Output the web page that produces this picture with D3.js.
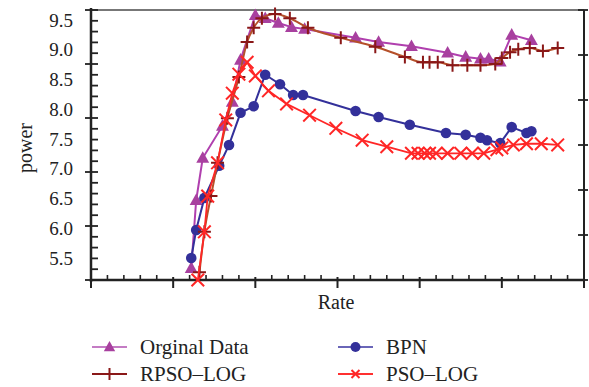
<!DOCTYPE html>
<html><head><meta charset="utf-8">
<script src="https://cdn.jsdelivr.net/npm/d3@7"></script>
<style>
html,body{margin:0;padding:0;background:#fff;}
text{font-family:"Liberation Serif","Times New Roman",serif;fill:#222;}
</style></head>
<body><svg id="c" width="589" height="387"></svg>
<script>
// ---- data ----
const origX = [6.1, 6.4, 6.8, 8.0, 8.6, 9.1, 10.0, 10.6, 11.4, 12.2, 13.0, 16.1, 17.5, 19.5, 21.7, 22.8, 23.7, 24.2, 24.9, 25.6, 26.8];
const origY = [5.33, 6.47, 7.18, 7.72, 8.12, 8.83, 9.58, 9.53, 9.45, 9.38, 9.35, 9.20, 9.13, 9.06, 8.95, 8.88, 8.85, 8.85, 8.80, 9.25, 9.16];
const bpnX = [6.1, 6.4, 6.9, 7.8, 8.4, 9.1, 9.9, 10.6, 11.5, 12.3, 12.9, 16.1, 17.5, 19.4, 21.6, 22.8, 23.7, 24.1, 24.9, 25.6, 26.5, 26.8];
const bpnY = [5.50, 5.97, 6.51, 7.05, 7.40, 7.94, 8.05, 8.58, 8.42, 8.24, 8.24, 7.97, 7.87, 7.74, 7.60, 7.57, 7.52, 7.48, 7.43, 7.70, 7.60, 7.63];
const rpsoX = [6.6, 6.9, 7.3, 7.7, 8.3, 9.0, 9.5, 9.9, 10.4, 11.2, 12.1, 13.2, 15.2, 17.3, 19.1, 20.2, 20.6, 21.1, 22.0, 22.9, 23.7, 24.6, 25.0, 25.5, 26.0, 26.7, 27.5, 28.4];
const rpsoY = [5.26, 5.94, 6.54, 7.10, 7.85, 8.54, 9.13, 9.37, 9.53, 9.60, 9.53, 9.37, 9.20, 9.05, 8.88, 8.79, 8.79, 8.79, 8.74, 8.74, 8.74, 8.76, 8.86, 8.96, 9.01, 9.03, 8.98, 9.03];
const psoX = [6.5, 6.9, 7.1, 7.7, 8.2, 8.6, 9.0, 9.5, 10.0, 10.8, 11.9, 13.3, 14.9, 16.5, 18.0, 19.5, 19.9, 20.3, 20.6, 21.0, 21.7, 22.5, 23.2, 23.9, 24.7, 25.0, 25.7, 26.5, 27.4, 28.4];
const psoY = [5.13, 5.94, 6.54, 7.10, 7.82, 8.27, 8.59, 8.79, 8.56, 8.31, 8.09, 7.90, 7.68, 7.48, 7.37, 7.26, 7.26, 7.26, 7.26, 7.26, 7.26, 7.26, 7.26, 7.26, 7.32, 7.35, 7.40, 7.42, 7.42, 7.40];
const yTickLabels = [5.5, 6.0, 6.5, 7.0, 7.5, 8.0, 8.5, 9.0, 9.5];
const seriesNames = ["Orginal Data", "BPN", "RPSO\u2013LOG", "PSO\u2013LOG"];
const xLabel = "Rate", yLabel = "power";

// ---- layout ----
const L = 91, R = 584, T = 10, B = 280;
const svg = d3.select("#c");
const x = d3.scaleLinear().domain([0, 30]).range([L, R]);
const y = d3.scaleLinear().domain([5.5, 9.5]).range([258, 20]);
const yTickGrid = d3.scaleLinear().domain([0, 25]).range([B, T]);
const yRightGrid = d3.scaleLinear().domain([0, 6]).range([B, T]);

// frame
svg.append("line").attr("x1", L).attr("x2", R).attr("y1", T).attr("y2", T)
  .attr("stroke", "#777").attr("stroke-width", 2);
svg.append("line").attr("x1", R).attr("x2", R).attr("y1", T).attr("y2", B + 3)
  .attr("stroke", "#222").attr("stroke-width", 2);

// bottom ticks
const bt = svg.append("g");
d3.range(0, 31).forEach(i => {
  const major = i % 5 === 0;
  bt.append("line").attr("x1", x(i)).attr("x2", x(i))
    .attr("y1", major ? B - 3 : B - 5).attr("y2", major ? B + 8 : B)
    .attr("stroke", "#222").attr("stroke-width", major ? 2 : 1.6);
});
// left ticks
d3.range(0, 26).forEach(i => {
  const major = i % 5 === 0;
  bt.append("line").attr("y1", yTickGrid(i)).attr("y2", yTickGrid(i))
    .attr("x1", major ? L - 6 : L).attr("x2", L + 7)
    .attr("stroke", "#222").attr("stroke-width", 1.8);
});
// right ticks
d3.range(0, 7).forEach(i => {
  bt.append("line").attr("y1", yRightGrid(i)).attr("y2", yRightGrid(i))
    .attr("x1", R - 6).attr("x2", R + 4)
    .attr("stroke", "#222").attr("stroke-width", 1.8);
});
svg.append("line").attr("x1", L).attr("x2", R).attr("y1", B).attr("y2", B)
  .attr("stroke", "#222").attr("stroke-width", 2.5);
svg.append("line").attr("x1", L).attr("x2", L).attr("y1", T - 2).attr("y2", B + 2)
  .attr("stroke", "#222").attr("stroke-width", 2.5);

// y tick labels via axis
const ya = svg.append("g").attr("transform", `translate(${L - 18},0)`)
  .call(d3.axisLeft(y).tickValues(yTickLabels).tickFormat(d3.format(".1f")).tickSize(0).tickPadding(0));
ya.select(".domain").remove();
ya.selectAll("text").attr("font-size", 19).attr("font-family", "Liberation Serif").attr("fill", "#222");

// axis titles
svg.append("text").attr("x", 336).attr("y", 309).attr("text-anchor", "middle")
  .attr("font-size", 20).text(xLabel);
svg.append("text").attr("transform", "translate(32,148) rotate(-90)").attr("text-anchor", "middle")
  .attr("font-size", 20).text(yLabel);

// ---- series ----
const plot = svg.append("g");
function zip(xs, ys) { return xs.map((v, i) => [v, ys[i]]); }
const line = d3.line().x(d => x(d[0])).y(d => y(d[1]));

function tri(g, cx, cy, s, fill) {
  g.append("path").attr("d", `M${cx},${cy - s}L${cx + s * 0.95},${cy + s * 0.7}L${cx - s * 0.95},${cy + s * 0.7}Z`).attr("fill", fill);
}
function plus(g, cx, cy, s, col) {
  g.append("path").attr("d", `M${cx - s},${cy}H${cx + s}M${cx},${cy - s}V${cy + s}`)
    .attr("stroke", col).attr("stroke-width", 2).attr("fill", "none");
}
function cross(g, cx, cy, s, col) {
  g.append("path").attr("d", `M${cx - s},${cy - s}L${cx + s},${cy + s}M${cx - s},${cy + s}L${cx + s},${cy - s}`)
    .attr("stroke", col).attr("stroke-width", 2).attr("fill", "none");
}
function circ(g, cx, cy, r, col) {
  g.append("circle").attr("cx", cx).attr("cy", cy).attr("r", r).attr("fill", col);
}

const cOrig = "#b03fae", cBpn = "#33309a", cRpsoL = "#b5502a", cRpsoM = "#8a1818", cPso = "#ff2626";

const orig = zip(origX, origY), bpn = zip(bpnX, bpnY), rpso = zip(rpsoX, rpsoY), pso = zip(psoX, psoY);

plot.append("path").datum(orig).attr("d", line).attr("fill", "none").attr("stroke", cOrig).attr("stroke-width", 2);
orig.forEach(d => tri(plot, x(d[0]), y(d[1]), 6.8, "#a8409f"));

plot.append("path").datum(bpn).attr("d", line).attr("fill", "none").attr("stroke", cBpn).attr("stroke-width", 2);
bpn.forEach(d => circ(plot, x(d[0]), y(d[1]), 5.3, cBpn));

plot.append("path").datum(rpso).attr("d", line.curve(d3.curveMonotoneX)).attr("fill", "none").attr("stroke", cRpsoL).attr("stroke-width", 2);
line.curve(d3.curveLinear);
rpso.forEach(d => plus(plot, x(d[0]), y(d[1]), 6.5, cRpsoM));

plot.append("path").datum(pso).attr("d", line).attr("fill", "none").attr("stroke", cPso).attr("stroke-width", 1.8);
pso.forEach(d => cross(plot, x(d[0]), y(d[1]), 6.3, cPso));

// ---- legend ----
const leg = svg.append("g");
const legItems = [
  {name: seriesNames[0], lx: 92, ly: 347, lineC: "#c47cc4", mark: (g, cx, cy) => tri(g, cx, cy, 6, "#a8409f")},
  {name: seriesNames[1], lx: 338, ly: 347, lineC: "#6a66b8", mark: (g, cx, cy) => circ(g, cx, cy, 5, cBpn)},
  {name: seriesNames[2], lx: 92, ly: 374, lineC: "#8a1818", mark: (g, cx, cy) => plus(g, cx, cy, 6, cRpsoM)},
  {name: seriesNames[3], lx: 338, ly: 374, lineC: "#ff3030", mark: (g, cx, cy) => cross(g, cx, cy, 4, cPso)}
];
legItems.forEach(it => {
  leg.append("line").attr("x1", it.lx).attr("x2", it.lx + 35).attr("y1", it.ly).attr("y2", it.ly)
    .attr("stroke", it.lineC).attr("stroke-width", 2);
  it.mark(leg, it.lx + 17.5, it.ly);
  leg.append("text").attr("x", it.lx + 48).attr("y", it.ly + 7).attr("font-size", 21).text(it.name);
});
</script></body></html>
